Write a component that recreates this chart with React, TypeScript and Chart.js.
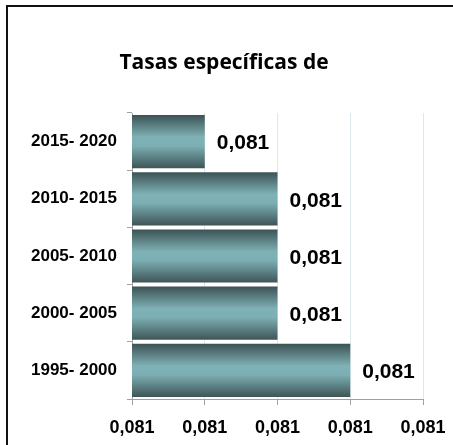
import React, { useEffect, useRef } from "react";
import { Chart, registerables } from "chart.js";

Chart.register(...registerables);

const titleText = "Tasas específicas de";
const categories = ["2015- 2020", "2010- 2015", "2005- 2010", "2000- 2005", "1995- 2000"];
const values = [0.0807, 0.0808, 0.0808, 0.0808, 0.0809];
const axisMin = 0.0806;
const axisMax = 0.081;
const axisStep = 0.0001;

const fmt = (v: number) => v.toFixed(3).replace(".", ",");

const labelPlugin = {
  id: "barLabels",
  afterDatasetsDraw(chart: any) {
    const ctx = chart.ctx;
    const meta = chart.getDatasetMeta(0);
    ctx.save();
    ctx.font = "bold 21px 'Liberation Sans', Arial, sans-serif";
    ctx.fillStyle = "#000";
    ctx.textAlign = "left";
    ctx.textBaseline = "middle";
    meta.data.forEach((el: any, i: number) => {
      ctx.fillText(fmt(values[i]), el.x + 12, el.y + 2);
    });
    ctx.restore();
  },
};

export default function App() {
  const ref = useRef<HTMLCanvasElement>(null);
  useEffect(() => {
    if (!ref.current) return;
    const chart = new Chart(ref.current, {
      type: "bar",
      data: {
        labels: categories,
        datasets: [
          {
            data: values,
            barPercentage: 0.93,
            categoryPercentage: 1,
            borderWidth: 0,
            backgroundColor: (c: any) => {
              const ch = c.chart;
              const ys = ch.scales && ch.scales.y;
              if (!ys || c.type !== "data" || !isFinite(ys.top)) return "#6f9fa3";
              const center = ys.getPixelForValue(c.dataIndex);
              const band = (ys.bottom - ys.top) / categories.length;
              const h = band * 0.93;
              const g = ch.ctx.createLinearGradient(0, center - h / 2, 0, center + h / 2);
              g.addColorStop(0, "#3c5254");
              g.addColorStop(0.42, "#7fb2b6");
              g.addColorStop(0.58, "#7cafb3");
              g.addColorStop(1, "#3e5557");
              return g;
            },
          },
        ],
      },
      options: {
        indexAxis: "y",
        animation: false,
        responsive: false,
        layout: { padding: { left: 25, right: 30, top: 0, bottom: 0 } },
        plugins: {
          legend: { display: false },
          tooltip: { enabled: false },
          title: {
            display: true,
            text: titleText,
            color: "#000",
            font: { family: "'Open Sans'", weight: "bold", size: 21, lineHeight: 1.2 },
            padding: { top: 50, bottom: 37.8 },
          },
        },
        scales: {
          x: {
            min: axisMin,
            max: axisMax,
            afterFit: (s: any) => {
              s.height = 46;
              s.paddingLeft = 0;
              s.paddingRight = 0;
            },
            afterBuildTicks: (s: any) => {
              const t = [];
              for (let i = 0; i <= 4; i++) t.push({ value: axisMin + i * axisStep });
              s.ticks = t;
            },
            ticks: {
              color: "#000",
              padding: 12,
              maxRotation: 0,
              font: { family: "'Liberation Sans', Arial", weight: "bold", size: 18 },
              callback: (v: any) => fmt(Number(v)),
            },
            grid: {
              color: "#dde8ec",
              tickColor: "#a0a0a0",
              tickLength: 6,
              lineWidth: 1,
            },
            border: { color: "#a0a0a0", width: 1 },
          },
          y: {
            afterFit: (s: any) => {
              s.width = 107;
              s.paddingTop = 0;
              s.paddingBottom = 0;
            },
            ticks: {
              color: "#000",
              padding: 10,
              font: { family: "'Liberation Sans', Arial", weight: "bold", size: 17 },
            },
            grid: {
              drawOnChartArea: false,
              drawTicks: true,
              tickLength: 5,
              tickColor: "#a0a0a0",
            },
            border: { color: "#a0a0a0", width: 1 },
          },
        },
      },
      plugins: [labelPlugin],
    } as any);
    return () => chart.destroy();
  }, []);
  return (
    <div>
      <div
        style={{
          position: "fixed",
          left: 6,
          top: 5,
          width: 470,
          height: 470,
          borderTop: "2px solid #111",
          borderLeft: "2px solid #111",
          boxSizing: "border-box",
        }}
      />
      <canvas
        ref={ref}
        width={453}
        height={445}
        style={{ position: "fixed", left: 0, top: 0, width: 453, height: 445 }}
      />
    </div>
  );
}
